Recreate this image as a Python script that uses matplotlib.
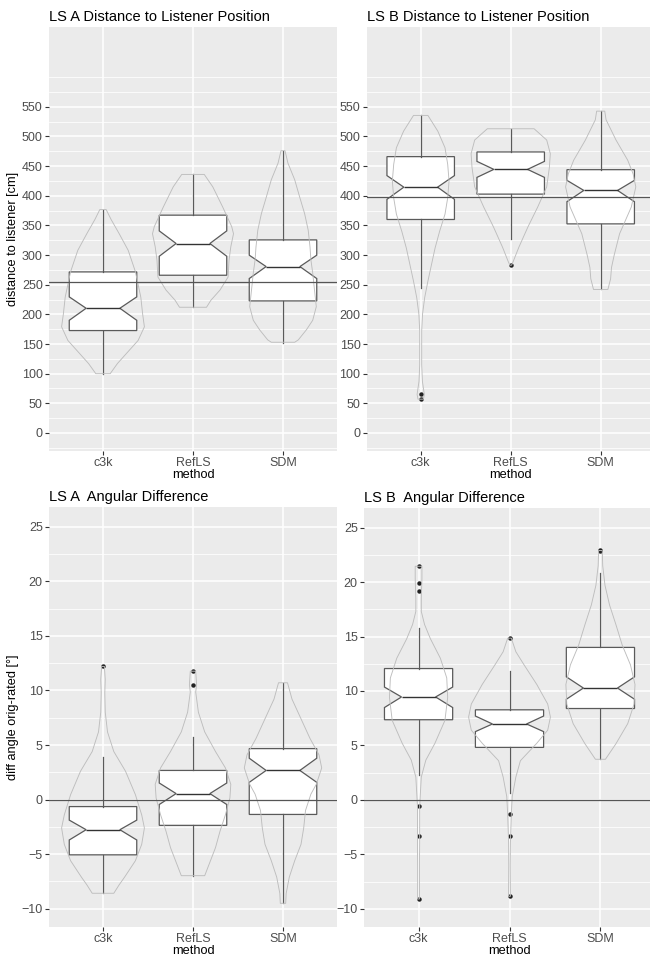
import matplotlib
matplotlib.use("Agg")
import matplotlib.pyplot as plt
import numpy as np

plt.rcParams["font.family"] = ["Liberation Sans", "DejaVu Sans"]

methods = ["c3k", "RefLS", "SDM"]

# box stats per method: whisker low, q1, median, q3, whisker high
dist_a_box = [[100, 172.7, 210.3, 271.6, 376.8],
              [212, 266, 319.5, 367.3, 435.9],
              [152.4, 222.7, 280.6, 325.6, 475.8]]
dist_a_notch = [[190, 229.5], [298, 340.8], [260.4, 299.8]]
dist_a_out = [[], [], []]
# violin outlines: value and half width
dist_a_vy = [[100, 117, 134, 156, 179, 201, 229, 272, 308, 336, 360, 376.8],
             [212, 224, 241, 263, 291, 314, 336, 348, 381, 415, 436],
             [153, 157, 174, 190, 213, 241, 270, 292, 314, 342, 370, 398, 427, 455, 476]]
dist_a_vw = [[0.08, 0.16, 0.26, 0.39, 0.46, 0.44, 0.42, 0.36, 0.28, 0.18, 0.09, 0.035],
             [0.15, 0.2, 0.3, 0.39, 0.40, 0.42, 0.45, 0.43, 0.33, 0.22, 0.125],
             [0.13, 0.17, 0.26, 0.33, 0.37, 0.35, 0.33, 0.31, 0.30, 0.28, 0.24, 0.185, 0.13, 0.055, 0.022]]

dist_b_box = [[244.7, 360, 414.5, 466, 535.5],
              [327, 402.8, 444.5, 473.9, 513],
              [242, 352.6, 409, 444, 542.7]]
dist_b_notch = [[394, 434], [431, 458], [390, 426]]
dist_b_out = [[57.4, 65.8], [283], []]
dist_b_vy = [[57, 65, 87, 115, 172, 200, 228, 256, 284, 312, 340, 369, 396.5, 425, 453, 481, 509, 535.5],
             [283, 290, 313, 347, 381, 415, 448, 471, 494, 513],
             [242, 260, 279, 300, 336, 381, 415, 437, 460, 494, 528, 542.7]]
dist_b_vw = [[0.03, 0.04, 0.019, 0.011, 0.011, 0.02, 0.044, 0.08, 0.12, 0.16, 0.21, 0.27, 0.30, 0.315, 0.30, 0.27, 0.19, 0.08],
             [0.01, 0.03, 0.09, 0.19, 0.30, 0.40, 0.43, 0.44, 0.40, 0.26],
             [0.08, 0.11, 0.12, 0.15, 0.21, 0.34, 0.39, 0.36, 0.30, 0.17, 0.06, 0.045]]

ang_a_box = [[-8.58, -5.06, -2.76, -0.64, 3.94],
             [-6.97, -2.36, 0.55, 2.67, 5.76],
             [-9.5, -1.36, 2.67, 4.67, 10.7]]
ang_a_notch = [[-3.7, -1.88], [-0.45, 1.52], [1.58, 3.79]]
ang_a_out = [[12.2], [10.5, 11.76], []]
ang_a_vy = [[-8.58, -7.8, -7.1, -5.6, -4.1, -2.6, -1.4, 0.45, 2.6, 4.4, 6.2, 8.0, 9.8, 11, 12.2],
            [-6.97, -5.9, -4.4, -2.9, -1.4, 0.15, 1.4, 2.9, 4.4, 6.2, 8.0, 9.85, 10.5, 11.76],
            [-9.5, -8.6, -7.1, -5.6, -4.1, -2.6, -1.0, 0.5, 1.4, 2.9, 4.1, 5.6, 7.4, 9.2, 10.7]]
ang_a_vw = [[0.12, 0.18, 0.24, 0.36, 0.43, 0.46, 0.43, 0.36, 0.25, 0.12, 0.05, 0.025, 0.02, 0.025, 0.015],
            [0.13, 0.18, 0.25, 0.30, 0.36, 0.41, 0.42, 0.36, 0.25, 0.13, 0.06, 0.03, 0.04, 0.03],
            [0.03, 0.035, 0.07, 0.13, 0.2, 0.23, 0.25, 0.31, 0.37, 0.43, 0.40, 0.30, 0.20, 0.10, 0.05]]

ang_b_box = [[2.27, 7.36, 9.45, 12.06, 15.76],
             [0.6, 4.82, 6.97, 8.27, 11.82],
             [3.73, 8.39, 10.27, 14.0, 20.8]]
ang_b_notch = [[8.48, 10.36], [6.27, 7.7], [9.24, 11.3]]
ang_b_out = [[-9.1, -3.36, -0.6, 19.15, 19.94, 21.45],
             [-8.85, -3.36, -1.3, 14.85],
             [22.85, 22.9]]
ang_b_vy = [[-9.1, -6, -3.9, -0.6, 2.1, 3.65, 5.2, 7.3, 9.4, 11.2, 13.0, 14.8, 16.1, 17.3, 18.5, 20.3, 21.45],
            [-8.85, -6, -3.9, -1.3, 0.3, 2.1, 3.6, 5.2, 6.4, 7.6, 8.8, 10.6, 12.4, 13.6, 14.85],
            [3.73, 5.15, 7.0, 8.8, 10.6, 12.4, 14.2, 16.1, 17.9, 19.7, 21.5, 22.9]]
ang_b_vw = [[0.01, 0.01, 0.012, 0.012, 0.03, 0.08, 0.18, 0.29, 0.32, 0.31, 0.24, 0.13, 0.066, 0.03, 0.03, 0.037, 0.037],
            [0.01, 0.008, 0.01, 0.02, 0.03, 0.07, 0.12, 0.30, 0.42, 0.45, 0.42, 0.30, 0.16, 0.07, 0.02],
            [0.055, 0.17, 0.30, 0.37, 0.38, 0.33, 0.24, 0.17, 0.10, 0.05, 0.025, 0.02]]

ref_lines = [255, 398, 0, 0]

W, H = 650, 958
fig = plt.figure(figsize=(W / 100, H / 100), dpi=100)


def px_axes(x0, y0, x1, y1):
    return fig.add_axes([x0 / W, 1 - y1 / H, (x1 - x0) / W, (y1 - y0) / H])


def draw_panel(ax, box, notch, out, vy, vw, ref, title, ylabel=None, dist=True):
    stats = []
    for b, n, o, m in zip(box, notch, out, methods):
        stats.append(dict(whislo=b[0], q1=b[1], med=b[2], q3=b[3], whishi=b[4],
                          cilo=n[0], cihi=n[1], fliers=o, label=m))
    ax.bxp(stats, positions=[1, 2, 3], widths=0.75, shownotches=True,
           showcaps=False, patch_artist=True,
           boxprops=dict(facecolor="white", edgecolor="#5a5a5a", linewidth=0.9),
           medianprops=dict(color="#333333", linewidth=1.0),
           whiskerprops=dict(color="#5a5a5a", linewidth=0.9),
           flierprops=dict(marker="o", markerfacecolor="#222222",
                           markeredgecolor="none", markersize=3.2))
    vp = []
    for y, w, b in zip(vy, vw, box):
        vp.append(dict(coords=np.array(y), vals=np.array(w), mean=b[2],
                       median=b[2], min=y[0], max=y[-1]))
    parts = ax.violin(vp, positions=[1, 2, 3], widths=[2 * max(w) for w in vw],
                      showextrema=False)
    for body in parts["bodies"]:
        body.set_facecolor("none")
        body.set_edgecolor("#bdbdbd")
        body.set_alpha(1)
        body.set_linewidth(0.65)
        body.set_zorder(3)
    ax.axhline(ref, color="#555555", lw=0.9, zorder=4)

    ax.set_facecolor("#EBEBEB")
    for s in ax.spines.values():
        s.set_visible(False)
    ax.set_xlim(0.4, 3.6)
    ax.set_xticks([1, 2, 3])
    ax.set_xticklabels(methods)
    if dist:
        ax.set_ylim(-30.4, 684.6)
        ax.set_yticks(np.arange(0, 551, 50))
        ax.set_yticks(list(np.arange(-25, 576, 50)) + [600], minor=True)
    else:
        ax.set_ylim(-11.67, 26.8)
        ax.set_yticks(np.arange(-10, 26, 5))
        ax.set_yticks(np.arange(-7.5, 23, 5), minor=True)
    ax.set_axisbelow(True)
    ax.grid(which="major", color="white", lw=1.1)
    ax.grid(which="minor", axis="y", color="white", lw=0.55)
    ax.tick_params(which="major", length=3, width=0.8, color="#333333",
                   labelcolor="#4D4D4D", labelsize=9, pad=1.5)
    ax.tick_params(which="minor", length=0)
    ax.set_title(title, loc="left", fontsize=10.5, pad=4)
    ax.set_xlabel("method", fontsize=9.2, labelpad=0)
    if ylabel:
        ax.set_ylabel(ylabel, fontsize=9.2, labelpad=2)


ax1 = px_axes(49, 27, 337, 451)
draw_panel(ax1, dist_a_box, dist_a_notch, dist_a_out, dist_a_vy, dist_a_vw,
           ref_lines[0], "LS A Distance to Listener Position", "distance to listener [cm]")
ax2 = px_axes(366.7, 27, 654.7, 451)
draw_panel(ax2, dist_b_box, dist_b_notch, dist_b_out, dist_b_vy, dist_b_vw,
           ref_lines[1], "LS B Distance to Listener Position")
ax3 = px_axes(49, 507, 337, 927)
draw_panel(ax3, ang_a_box, ang_a_notch, ang_a_out, ang_a_vy, ang_a_vw,
           ref_lines[2], "LS A  Angular Difference", "diff angle orig-rated [°]", dist=False)
ax4 = px_axes(364, 508, 655, 927)
draw_panel(ax4, ang_b_box, ang_b_notch, ang_b_out, ang_b_vy, ang_b_vw,
           ref_lines[3], "LS B  Angular Difference", dist=False)

fig.savefig("out.png", dpi=100)
